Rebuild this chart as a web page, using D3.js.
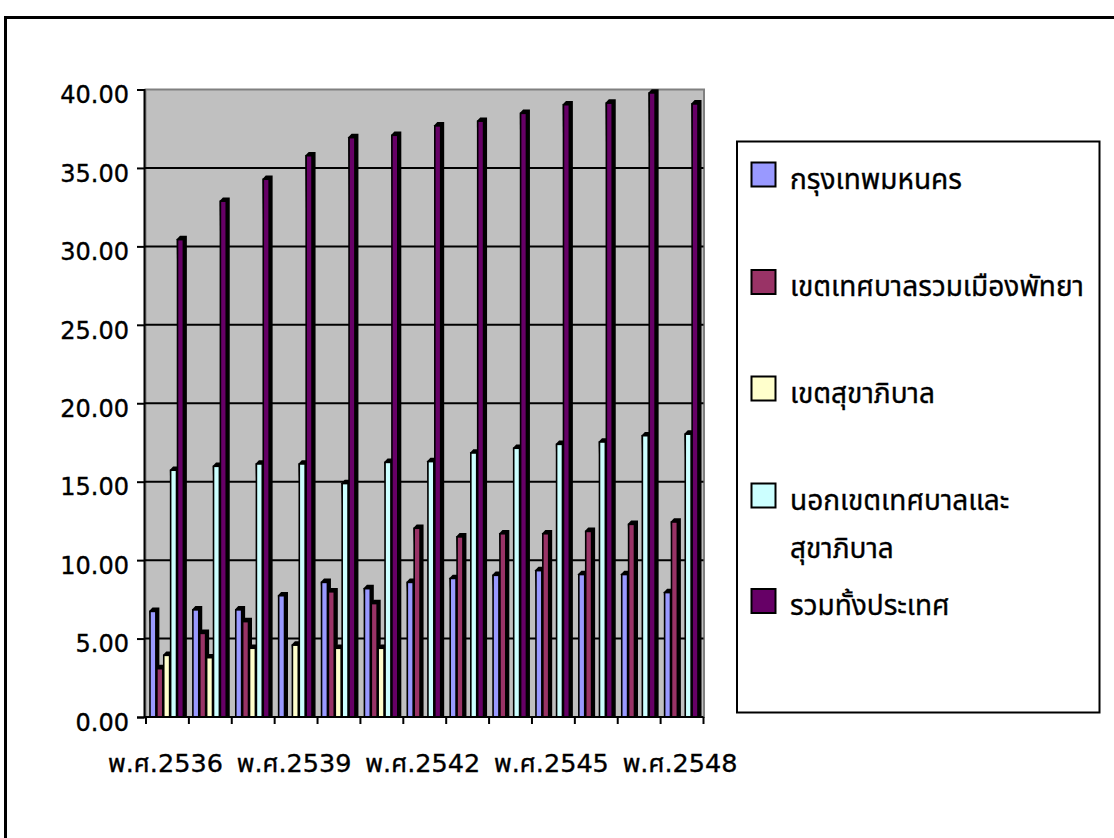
<!DOCTYPE html>
<html>
<head>
<meta charset="utf-8">
<script src="https://cdn.jsdelivr.net/npm/d3@7/dist/d3.min.js"></script>
<style>
  html, body { margin: 0; padding: 0; background: #fff; }
  svg { display: block; }
  text { font-family: "DejaVu Sans", "Noto Sans Thai", "Noto Sans", sans-serif; fill: #000; stroke: #000; stroke-width: 0.35px; }
</style>
</head>
<body>
<svg id="chart" width="1114" height="838"></svg>
<script>
// ---- data ----
const categories = ["พ.ศ.2536","พ.ศ.2537","พ.ศ.2538","พ.ศ.2539","พ.ศ.2540","พ.ศ.2541","พ.ศ.2542",
                    "พ.ศ.2543","พ.ศ.2544","พ.ศ.2545","พ.ศ.2546","พ.ศ.2547","พ.ศ.2548"];
const seriesNames = ["กรุงเทพมหนคร","เขตเทศบาลรวมเมืองพัทยา","เขตสุขาภิบาล","นอกเขตเทศบาลและสุขาภิบาล","รวมทั้งประเทศ"];
const bangkok   = [6.75, 6.85, 6.85, 7.75, 8.6, 8.2, 8.6, 8.85, 9.05, 9.35, 9.1, 9.1, 7.95];
const municipal = [3.1, 5.35, 6.1, null, 8.0, 7.25, 12.05, 11.5, 11.7, 11.7, 11.85, 12.3, 12.45];
const sanitary  = [3.95, 3.8, 4.4, 4.6, 4.4, 4.4, null, null, null, null, null, null, null];
const outside   = [15.75, 16.0, 16.15, 16.15, 14.9, 16.25, 16.3, 16.85, 17.15, 17.4, 17.55, 17.95, 18.05];
const total     = [30.45, 32.9, 34.3, 35.8, 36.95, 37.1, 37.7, 38.0, 38.5, 39.05, 39.15, 39.8, 39.1];
const yTicks = [0, 5, 10, 15, 20, 25, 30, 35, 40];
const labelEvery = 3;

const seriesValues = [bangkok, municipal, sanitary, outside, total];
const colors = ["#9999FF", "#993366", "#FFFFCC", "#CCFFFF", "#660066"];
const legendLines = [["กรุงเทพมหนคร"], ["เขตเทศบาลรวมเมืองพัทยา"], ["เขตสุขาภิบาล"], ["นอกเขตเทศบาลและ", "สุขาภิบาล"], ["รวมทั้งประเทศ"]];

const svg = d3.select("#chart");

// outer frame (extends beyond right/bottom edges)
svg.append("rect").attr("x", 5.5).attr("y", 17.5).attr("width", 1300).attr("height", 1000)
  .attr("fill", "none").attr("stroke", "#000").attr("stroke-width", 3);

const plot = { left: 145, right: 703.5, top: 89.5, bottom: 717 };

const x0 = d3.scaleBand().domain(categories).range([plot.left + 1, plot.right]).paddingInner(0).paddingOuter(0);
const x1 = d3.scaleBand().domain(d3.range(seriesNames.length)).range([4, x0.bandwidth() - 4.5]);
const y = d3.scaleLinear().domain([0, 40]).range([plot.bottom, plot.top]);

// plot background
svg.append("rect").attr("x", plot.left + 0.5).attr("y", plot.top)
  .attr("width", plot.right - plot.left).attr("height", plot.bottom - plot.top)
  .attr("fill", "#C0C0C0").attr("stroke", "#808080").attr("stroke-width", 2);

// gridlines
svg.append("g").selectAll("line").data(yTicks.filter(d => d > 0 && d < 40)).join("line")
  .attr("x1", plot.left).attr("x2", plot.right)
  .attr("y1", d => y(d)).attr("y2", d => y(d))
  .attr("stroke", "#000").attr("stroke-width", 2);

// bars with a simple 3D look
const depth = 3;
const bw = x1.bandwidth();
const fw = bw - 1;
const groups = svg.append("g").selectAll("g").data(categories).join("g")
  .attr("transform", d => `translate(${x0(d)},0)`);
groups.each(function(cat, ci) {
  const g = d3.select(this);
  seriesValues.forEach((vals, si) => {
    const v = vals[ci];
    if (v == null) return;
    const bx = x1(si), top = y(v), base = y(0);
    g.append("polygon")
      .attr("points", [[bx - 0.8, top], [bx + depth - 0.5, top - depth - 0.5], [bx + fw + depth + 0.5, top - depth - 0.5],
                       [bx + fw + depth + 0.5, base], [bx + fw, base]].map(p => p.join(",")).join(" "))
      .attr("fill", "#000");
    g.append("rect").attr("x", bx).attr("y", top + 0.3)
      .attr("width", fw).attr("height", base - top - 0.3)
      .attr("fill", colors[si]).attr("stroke", "#000").attr("stroke-width", 1.6);
  });
});

// y axis
const yAxis = svg.append("g").attr("transform", `translate(${plot.left - 1},0)`)
  .call(d3.axisLeft(y).tickValues(yTicks).tickFormat(d3.format(".2f")).tickSize(7).tickPadding(8));
yAxis.select(".domain").attr("stroke", "#000").attr("stroke-width", 2);
yAxis.selectAll(".tick line").attr("stroke", "#000").attr("stroke-width", 2);
yAxis.selectAll(".tick text").attr("font-size", 24).attr("font-family", null).attr("dy", "0.55em");

// x axis
const xAxis = svg.append("g").attr("transform", `translate(0,${plot.bottom})`)
  .call(d3.axisBottom(x0).tickSize(0).tickPadding(38)
    .tickFormat((d, i) => i % labelEvery === 0 ? d : ""));
xAxis.select(".domain").attr("stroke", "#000").attr("stroke-width", 2).attr("d", `M${plot.left - 1},0H${plot.right}`);
xAxis.selectAll(".tick text").attr("font-size", 25.5).attr("font-family", null).attr("dy", "0.68em").attr("dx", -2);
// tick marks between categories
svg.append("g").selectAll("line").data(d3.range(categories.length + 1)).join("line")
  .attr("x1", i => i < categories.length ? x0(categories[i]) : plot.right)
  .attr("x2", i => i < categories.length ? x0(categories[i]) : plot.right)
  .attr("y1", plot.bottom).attr("y2", plot.bottom + 7)
  .attr("stroke", "#000").attr("stroke-width", 2);

// legend
const legend = svg.append("g");
legend.append("rect").attr("x", 737).attr("y", 141.5).attr("width", 362.5).attr("height", 571)
  .attr("fill", "#fff").attr("stroke", "#000").attr("stroke-width", 2);
const legendY = [174.5, 282, 388.5, 495.5, 601];
legendLines.forEach((lines, i) => {
  const cy = legendY[i];
  legend.append("rect").attr("x", 751.5).attr("y", cy - 12).attr("width", 24).attr("height", 24)
    .attr("fill", colors[i]).attr("stroke", "#000").attr("stroke-width", 2);
  lines.forEach((t, j) => {
    legend.append("text").attr("x", 790).attr("y", cy + 14 + j * 48)
      .attr("font-size", 28).text(t);
  });
});
</script>
</body>
</html>
